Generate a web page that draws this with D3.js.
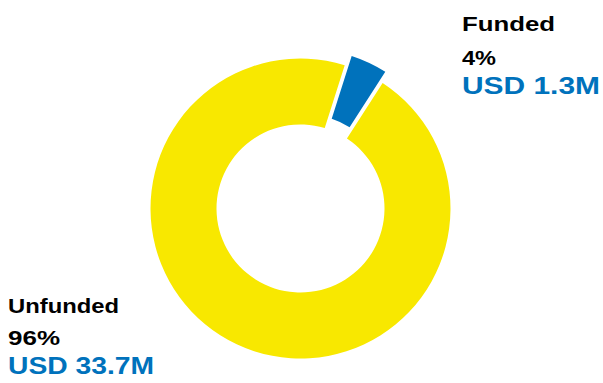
<!DOCTYPE html>
<html>
<head>
<meta charset="utf-8">
<script src="https://cdn.jsdelivr.net/npm/d3@7"></script>
<style>
  body { margin: 0; background: #fff; }
  svg { display: block; }
  .lbl { font-family: "Liberation Sans", Arial, sans-serif; font-weight: 700; }
</style>
</head>
<body>
<div id="chart"></div>
<script>
var width = 603;
var height = 383;

var categories = ["Funded", "Unfunded"];
var percents = [4, 96];
var amounts = ["USD 1.3M", "USD 33.7M"];

var colors = {
    "Funded": "#0072bc",
    "Unfunded": "#f8e800"
};

var CX = 300.5;
var CY = 208.5;
var OUTER = 150;
var INNER = 84;
var START = 17.6 * Math.PI / 180;
var EXPLODE = 11;

var data = categories.map(function(c, i) {
    return { name: c, value: percents[i], amount: amounts[i] };
});

var svg = d3.select("#chart").append("svg")
    .attr("width", width)
    .attr("height", height);

var g = svg.append("g").attr("transform", "translate(" + CX + "," + CY + ")");

var pie = d3.pie()
    .sort(null)
    .startAngle(START)
    .endAngle(START + 2 * Math.PI)
    .padAngle(0.014)
    .value(function(d) { return d.value; });

var arc = d3.arc().innerRadius(INNER).outerRadius(OUTER);

g.selectAll("path.slice")
    .data(pie(data))
    .enter().append("path")
    .attr("class", "slice")
    .attr("d", arc)
    .attr("fill", function(d) { return colors[d.data.name]; })
    .attr("transform", function(d) {
        // pull the funded slice out of the ring
        if (d.data.name != "Funded") return null;
        var a = (d.startAngle + d.endAngle) / 2;
        return "translate(" + (Math.sin(a) * EXPLODE) + "," + (-Math.cos(a) * EXPLODE) + ")";
    });

// Labels
var labelPos = {
    "Funded": { x: 462, y: [31, 65, 94], w: [93, 34, 138] },
    "Unfunded": { x: 8, y: [313, 345, 374], w: [111, 52, 146] }
};

data.forEach(function(d) {
    var p = labelPos[d.name];
    var lines = [
        { t: d.name, size: 21, color: "#000" },
        { t: d.value + "%", size: 21, color: "#000" },
        { t: d.amount, size: 24, color: colors["Funded"] }
    ];
    lines.forEach(function(l, i) {
        svg.append("text")
            .attr("class", "lbl")
            .attr("x", p.x)
            .attr("y", p.y[i])
            .attr("textLength", p.w[i])
            .attr("lengthAdjust", "spacingAndGlyphs")
            .style("font-size", l.size + "px")
            .style("fill", l.color)
            .text(l.t);
    });
});
</script>
</body>
</html>
